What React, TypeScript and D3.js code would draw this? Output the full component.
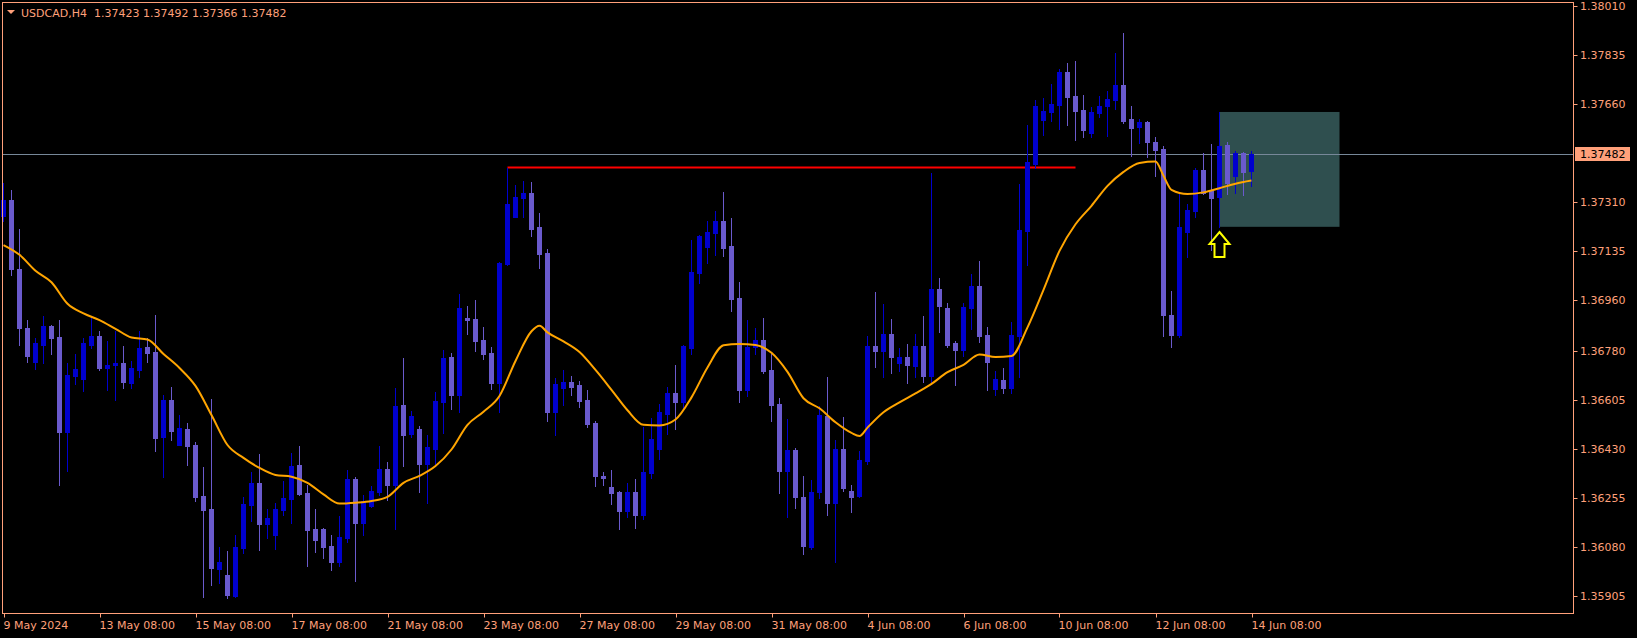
import React from "react";
import * as d3 from "d3";

// USDCAD H4 bars (oldest first)
const opens = [
  1.37262, 1.37318, 1.37072, 1.36861, 1.36741, 1.36801, 1.36868, 1.36829, 1.36491, 1.36691,
  1.36677, 1.368, 1.36833, 1.36719, 1.36727, 1.36736, 1.36665, 1.36712, 1.36793, 1.36775,
  1.36473, 1.36605, 1.36443, 1.365, 1.36443, 1.36261, 1.36215, 1.36001, 1.35979, 1.35904,
  1.36077, 1.36229, 1.36307, 1.36161, 1.3612, 1.36211, 1.36251, 1.36372, 1.36273, 1.36144,
  1.36144, 1.36083, 1.36026, 1.36111, 1.36322, 1.36165, 1.36226, 1.36276, 1.36358, 1.36301,
  1.36586, 1.36483, 1.365, 1.36375, 1.36429, 1.36598, 1.36757, 1.36622, 1.36896, 1.36893,
  1.36818, 1.36772, 1.36665, 1.3709, 1.37257, 1.37326, 1.37343, 1.37222, 1.37129, 1.36561,
  1.36647, 1.36668, 1.36657, 1.36604, 1.36522, 1.36333, 1.36293, 1.36276, 1.36208, 1.36276,
  1.36193, 1.36343, 1.36429, 1.36554, 1.36629, 1.36597, 1.3679, 1.37057, 1.3715, 1.372,
  1.37243, 1.37154, 1.36968, 1.3664, 1.36793, 1.36818, 1.36711, 1.3659, 1.36351, 1.36426,
  1.36258, 1.36079, 1.36276, 1.36547, 1.36236, 1.36429, 1.36279, 1.36261, 1.36386, 1.36797,
  1.36779, 1.3684, 1.36736, 1.36757, 1.36725, 1.36797, 1.3669, 1.37, 1.36932, 1.36808,
  1.36782, 1.36932, 1.37011, 1.36836, 1.36643, 1.36675, 1.36647, 1.36833, 1.37207, 1.37447,
  1.37604, 1.37632, 1.37657, 1.37775, 1.37689, 1.37639, 1.37557, 1.37629, 1.37654, 1.37675,
  1.37729, 1.37607, 1.37579, 1.37597, 1.37525, 1.375, 1.36907, 1.36836, 1.37204, 1.37279,
  1.37425, 1.3735, 1.37329, 1.37514, 1.37404, 1.37486, 1.37423,
];
const highs = [
  1.37378, 1.37354, 1.37213, 1.3689, 1.36824, 1.36904, 1.36872, 1.3689, 1.36735, 1.36768,
  1.36824, 1.36901, 1.36849, 1.36814, 1.36849, 1.36797, 1.36742, 1.36849, 1.36824, 1.36907,
  1.36621, 1.3665, 1.36549, 1.36523, 1.36452, 1.36366, 1.36608, 1.3608, 1.36065, 1.36122,
  1.36257, 1.36348, 1.36411, 1.36215, 1.36235, 1.36316, 1.36416, 1.3644, 1.36301, 1.36215,
  1.36148, 1.36122, 1.3619, 1.36354, 1.3633, 1.36265, 1.36295, 1.3644, 1.36383, 1.36646,
  1.36753, 1.36564, 1.36511, 1.36479, 1.36633, 1.36782, 1.36772, 1.36982, 1.3694, 1.36961,
  1.36865, 1.36793, 1.37097, 1.37433, 1.37372, 1.37386, 1.37382, 1.37272, 1.37143, 1.36683,
  1.36711, 1.3669, 1.36672, 1.3664, 1.36529, 1.36347, 1.36354, 1.36279, 1.36308, 1.36322,
  1.36509, 1.3654, 1.3659, 1.3665, 1.36729, 1.368, 1.37175, 1.37193, 1.37243, 1.37279,
  1.37347, 1.37254, 1.37025, 1.3689, 1.36861, 1.36897, 1.36775, 1.36611, 1.36536, 1.36433,
  1.36333, 1.36318, 1.36583, 1.36686, 1.36461, 1.36543, 1.36301, 1.36422, 1.36833, 1.3699,
  1.36947, 1.36893, 1.3679, 1.36804, 1.3684, 1.36904, 1.37414, 1.3704, 1.3695, 1.36815,
  1.3695, 1.37054, 1.371, 1.36865, 1.36708, 1.36718, 1.36882, 1.37375, 1.37586, 1.37675,
  1.37682, 1.37732, 1.37786, 1.37807, 1.37814, 1.37693, 1.3765, 1.37689, 1.37707, 1.37843,
  1.37914, 1.37654, 1.37607, 1.376, 1.37543, 1.37511, 1.36993, 1.37343, 1.37304, 1.37432,
  1.37486, 1.37518, 1.37632, 1.37525, 1.37493, 1.37489, 1.37492,
];
const lows = [
  1.37241, 1.37051, 1.36801, 1.36741, 1.36715, 1.36737, 1.36769, 1.36302, 1.36351, 1.36662,
  1.36637, 1.36791, 1.36711, 1.3664, 1.36605, 1.36647, 1.36647, 1.36686, 1.3674, 1.36422,
  1.36327, 1.36461, 1.36443, 1.36372, 1.36243, 1.35902, 1.35944, 1.3595, 1.35898, 1.35902,
  1.36057, 1.36172, 1.36069, 1.36112, 1.36072, 1.36193, 1.36164, 1.36266, 1.36011, 1.36062,
  1.36041, 1.35997, 1.36012, 1.36098, 1.35958, 1.3612, 1.36223, 1.36265, 1.36247, 1.36144,
  1.36368, 1.36473, 1.36276, 1.36235, 1.36372, 1.36487, 1.36572, 1.36562, 1.36841, 1.36779,
  1.3675, 1.36643, 1.36562, 1.37086, 1.37257, 1.37257, 1.3719, 1.37075, 1.36527, 1.36477,
  1.36586, 1.36622, 1.36579, 1.36508, 1.36297, 1.36301, 1.36233, 1.36144, 1.36186, 1.36147,
  1.36179, 1.36326, 1.36393, 1.36483, 1.365, 1.36575, 1.36768, 1.37022, 1.37093, 1.37122,
  1.37118, 1.36922, 1.36597, 1.36618, 1.36768, 1.367, 1.36529, 1.36272, 1.36186, 1.36218,
  1.36054, 1.36072, 1.36254, 1.36193, 1.36026, 1.36279, 1.36204, 1.36258, 1.36375, 1.36722,
  1.36686, 1.367, 1.36708, 1.36665, 1.36686, 1.36668, 1.36668, 1.36847, 1.36793, 1.36658,
  1.36761, 1.36857, 1.36811, 1.3664, 1.36622, 1.36629, 1.36629, 1.36686, 1.37086, 1.37432,
  1.3755, 1.376, 1.37572, 1.37586, 1.37532, 1.37543, 1.37543, 1.37614, 1.37547, 1.37643,
  1.37593, 1.37475, 1.37522, 1.37472, 1.37404, 1.36833, 1.36793, 1.36829, 1.37115, 1.37257,
  1.37339, 1.3714, 1.37222, 1.37339, 1.37343, 1.37336, 1.37366,
];
const closes = [
  1.37318, 1.37071, 1.36859, 1.36759, 1.36806, 1.36868, 1.36826, 1.36491, 1.36692, 1.36714,
  1.36808, 1.36833, 1.36719, 1.36729, 1.36736, 1.36669, 1.36718, 1.36791, 1.36773, 1.36469,
  1.36605, 1.36493, 1.36504, 1.3644, 1.36258, 1.36211, 1.36005, 1.36027, 1.35908, 1.36079,
  1.36233, 1.36307, 1.36161, 1.36183, 1.36214, 1.36254, 1.36368, 1.36268, 1.3614, 1.36104,
  1.36079, 1.36026, 1.36115, 1.36322, 1.36165, 1.36243, 1.36279, 1.36358, 1.36301, 1.36584,
  1.36479, 1.36547, 1.36375, 1.36436, 1.366, 1.36754, 1.36622, 1.36932, 1.36891, 1.36815,
  1.36769, 1.36665, 1.37093, 1.37304, 1.37329, 1.37343, 1.37215, 1.37125, 1.36561, 1.36661,
  1.36668, 1.3665, 1.366, 1.36518, 1.36333, 1.36326, 1.36272, 1.36208, 1.36276, 1.36193,
  1.36347, 1.36465, 1.36561, 1.36629, 1.36597, 1.36797, 1.37061, 1.3719, 1.37204, 1.37243,
  1.37147, 1.36965, 1.3664, 1.36793, 1.36818, 1.36708, 1.36586, 1.36351, 1.36426, 1.36258,
  1.36083, 1.36276, 1.3655, 1.36236, 1.36429, 1.3629, 1.36258, 1.3639, 1.36797, 1.36779,
  1.3684, 1.36757, 1.36757, 1.36729, 1.36797, 1.3669, 1.37, 1.3694, 1.368, 1.36782,
  1.36936, 1.37011, 1.36833, 1.3674, 1.36679, 1.36647, 1.36836, 1.37211, 1.37454, 1.37654,
  1.37636, 1.37661, 1.37775, 1.37686, 1.37636, 1.37568, 1.37632, 1.37654, 1.37679, 1.37729,
  1.376, 1.37575, 1.37597, 1.37525, 1.37497, 1.36907, 1.36836, 1.37222, 1.37282, 1.37425,
  1.37343, 1.37325, 1.37511, 1.37379, 1.37486, 1.37418, 1.37482,
];

// moving average (orange), read at these bar indices
const maBars = [
  0, 2, 4, 6, 8, 10, 12, 14, 16, 18, 20, 22, 24, 26, 28, 30, 32, 34, 36, 38, 40, 42, 44, 46, 48,
  50, 52, 54, 56, 58, 60, 62, 64, 66, 67, 68, 70, 72, 74, 76, 78, 80, 82, 84, 86, 88, 90, 92, 94,
  96, 98, 100, 102, 104, 106, 107, 108, 110, 112, 114, 116, 118, 120, 122, 124, 126, 128, 130,
  132, 134, 136, 138, 140, 142, 144, 145, 146, 148, 150, 152, 154, 156,
];
const maValues = [
  1.37157, 1.37122, 1.37065, 1.37024, 1.36947, 1.36913, 1.36889, 1.36858, 1.36827, 1.3682,
  1.36768, 1.36718, 1.36654, 1.3655, 1.36443, 1.36397, 1.36361, 1.36336, 1.3633, 1.36308,
  1.36267, 1.36234, 1.36237, 1.36243, 1.36258, 1.36308, 1.36333, 1.36368, 1.36427, 1.36515,
  1.36562, 1.36618, 1.36743, 1.36849, 1.36869, 1.36845, 1.36813, 1.36775, 1.36711, 1.3664,
  1.36567, 1.36515, 1.36513, 1.36534, 1.36613, 1.3672, 1.36799, 1.36804, 1.368, 1.36772,
  1.36704, 1.3661, 1.36574, 1.36524, 1.36486, 1.36475, 1.36505, 1.3656, 1.36595, 1.36627,
  1.36661, 1.36703, 1.36729, 1.36766, 1.36757, 1.36761, 1.36863, 1.36997, 1.37136, 1.37231,
  1.37297, 1.37368, 1.37418, 1.3745, 1.37455, 1.37404, 1.37354, 1.37339, 1.37345, 1.3736,
  1.37376, 1.37387,
];

const priceTicks = [
  1.3801, 1.37835, 1.3766, 1.3731, 1.37135, 1.3696, 1.3678, 1.36605, 1.3643, 1.36255, 1.3608,
  1.35905,
];
const timeBars = [0, 12, 24, 36, 48, 60, 72, 84, 96, 108, 120, 132, 144, 156];
const timeLabels = [
  "9 May 2024", "13 May 08:00", "15 May 08:00", "17 May 08:00", "21 May 08:00",
  "23 May 08:00", "27 May 08:00", "29 May 08:00", "31 May 08:00", "4 Jun 08:00",
  "6 Jun 08:00", "10 Jun 08:00", "12 Jun 08:00", "14 Jun 08:00",
];

const symbol = "USDCAD,H4";
const lastPrice = 1.37482;
// resistance line (red) and the box after the signal bar
const levelPrice = 1.37434;
const levelFrom = 63;
const levelTo = 134;
const boxFrom = 152;
const boxTo = 167;
const boxTop = 1.37632;
const boxBottom = 1.37222;
const arrowBar = 152;

const W = 1637;
const H = 638;
const FG = "#FFA07A";
const UP = "#0000CD";
const DOWN = "#6A5ACD";
const plotRight = 1573.5;
const plotBottom = 613.5;

export default function App() {
  const x = d3.scaleLinear().domain([0, 156]).range([3.5, 1251.5]);
  const y = d3.scaleLinear().domain([1.3801, 1.35905]).range([6.1, 595.7]);
  const fmt = d3.format(".5f");

  const bars = d3.range(opens.length).map((i) => ({
    i,
    o: opens[i],
    h: highs[i],
    l: lows[i],
    c: closes[i],
  }));

  const maLine = d3
    .line<number>()
    .x((_, k) => x(maBars[k]))
    .y((v) => y(v))
    .curve(d3.curveMonotoneX)(maValues);

  const lastY = Math.round(y(lastPrice)) + 0.5;
  const ax = x(arrowBar);
  const ay = Math.round(y(lows[arrowBar])) + 5;
  const arrow = `M${ax},${ay} L${ax + 10},${ay + 12} L${ax + 5},${ay + 12} L${ax + 5},${ay + 25} L${ax - 5},${ay + 25} L${ax - 5},${ay + 12} L${ax - 10},${ay + 12} Z`;

  return (
    <div style={{ position: "absolute", left: 0, top: 0 }}>
      <svg
        width={W}
        height={H}
        style={{ display: "block", fontFamily: "'DejaVu Sans', sans-serif", fontSize: 11 }}
      >
        <rect width={W} height={H} fill="#000" />

        {/* box */}
        <rect
          x={x(boxFrom)}
          y={y(boxTop)}
          width={x(boxTo) - x(boxFrom)}
          height={y(boxBottom) - y(boxTop)}
          fill="#2F4F4F"
        />

        {/* current price line */}
        <line x1={2} x2={plotRight} y1={lastY} y2={lastY} stroke="#778899" strokeWidth={1} />

        {/* red level */}
        <line
          x1={x(levelFrom)}
          x2={x(levelTo)}
          y1={y(levelPrice)}
          y2={y(levelPrice)}
          stroke="#FF0000"
          strokeWidth={2}
        />

        {/* candles */}
        <g shapeRendering="crispEdges">
          {bars.map((b) => {
            const cx = x(b.i);
            const col = b.c >= b.o ? UP : DOWN;
            const top = Math.round(y(Math.max(b.o, b.c)));
            const bot = Math.round(y(Math.min(b.o, b.c)));
            const hi = Math.round(y(b.h));
            const lo = Math.round(y(b.l));
            return (
              <g key={b.i} fill={col}>
                <rect x={cx - 0.5} y={hi} width={1} height={Math.max(1, lo - hi + 1)} />
                <rect x={cx - 2.5} y={top} width={5} height={Math.max(1, bot - top + 1)} />
              </g>
            );
          })}
        </g>

        {/* moving average */}
        <path d={maLine || ""} fill="none" stroke="#FFA500" strokeWidth={2} />

        {/* signal arrow */}
        <path d={arrow} fill="none" stroke="#FFFF00" strokeWidth={2} strokeLinejoin="miter" />

        {/* frame */}
        <rect
          x={2.5}
          y={2.5}
          width={plotRight - 2.5}
          height={plotBottom - 2.5}
          fill="none"
          stroke={FG}
          strokeWidth={1}
        />

        {/* price axis */}
        {priceTicks.map((p) => {
          const ty = Math.round(y(p)) + 0.5;
          return (
            <g key={p}>
              <line x1={plotRight} x2={plotRight + 4} y1={ty} y2={ty} stroke={FG} />
              <text x={1580} y={ty} dy="0.36em" fill={FG}>
                {fmt(p)}
              </text>
            </g>
          );
        })}
        <rect x={1575} y={lastY - 7.5} width={55} height={14} fill={FG} />
        <text x={1580} y={lastY} dy="0.36em" fill="#000">
          {fmt(lastPrice)}
        </text>

        {/* time axis */}
        {timeBars.map((b, k) => {
          const tx = Math.round(x(b)) + 0.5;
          return (
            <g key={b}>
              <line x1={tx} x2={tx} y1={plotBottom} y2={plotBottom + 4} stroke={FG} />
              <text x={tx - 1} y={629} fill={FG}>
                {timeLabels[k]}
              </text>
            </g>
          );
        })}

        {/* title */}
        <path d="M7,10 L15,10 L11,14 Z" fill={FG} />
        <text x={21} y={17} fill={FG} style={{ whiteSpace: "pre" }}>
          {`${symbol}  ${fmt(opens[156])} ${fmt(highs[156])} ${fmt(lows[156])} ${fmt(closes[156])}`}
        </text>
      </svg>
    </div>
  );
}
